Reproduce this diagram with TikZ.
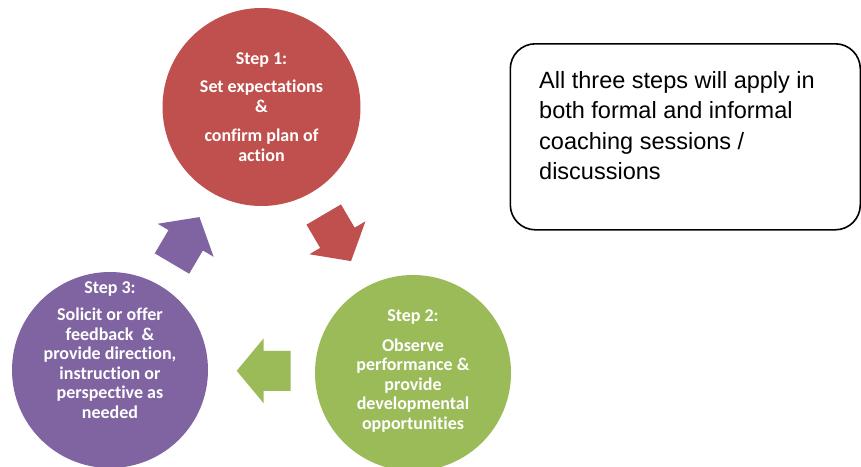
\documentclass[tikz,border=0pt]{standalone}
\usepackage{fontspec}
\setmainfont{Liberation Sans}
\newfontfamily\calibri[Ligatures=CommonOff]{Carlito}

\definecolor{stepred}{HTML}{C0504D}
\definecolor{stepgreen}{HTML}{9BBB59}
\definecolor{stepviolet}{HTML}{8064A2}

\tikzset{
  stepcircle/.style={circle, inner sep=0pt, minimum size=#1},
  stepcircle/.default=196pt,
  steptext/.style={text=white, align=center, inner sep=0pt,
    font=\calibri\bfseries\fontsize{18}{19.5}\selectfont},
  notebox/.style={draw, line width=1.6pt, rounded corners=25pt, inner sep=0pt,
    minimum width=350pt, minimum height=186pt},
  notetext/.style={align=left, inner sep=0pt, font=\fontsize{23.5}{30.2}\selectfont},
  % block arrow, tip on the local x axis
  steparrow/.pic={
    \path[pic actions] (-27,-20) -- (0,-20) -- (0,-32.5) -- (27,0)
      -- (0,32.5) -- (0,20) -- (-27,20) -- cycle;
  },
}

\begin{document}
\begin{tikzpicture}[x=1pt,y=-1pt]
    \useasboundingbox (0,0) rectangle (861,466);

    % the three steps
    \node[stepcircle=198pt, fill=stepred] (s1) at (261.5,107) {};
    \node[stepcircle, fill=stepgreen] (s2) at (413,373) {};
    \node[stepcircle, fill=stepviolet] (s3) at (110,370) {};

    \node[steptext] (t1) at (s1) {Step 1:\\[8.5pt]Set expectations\\\&\\[10pt]confirm plan of\\action};
    \node[steptext] (t2) at ([yshift=2pt]s2.center) {Step 2:\\[10pt]Observe\\performance \&\\provide\\developmental\\opportunities};
    \node[steptext] (t3) at ([yshift=20pt]s3.center) {Step 3:\\[8pt]Solicit or offer\\feedback~~\&\\provide direction,\\instruction or\\perspective as\\needed};

    % arrows between the steps
    \pic[fill=stepred, rotate=-59.6] at (337.4,237.8) {steparrow};
    \pic[fill=stepgreen, rotate=180] at (263.7,370.8) {steparrow};
    \pic[fill=stepviolet, rotate=59.4] at (185.7,240.3) {steparrow};

    % note on the right
    \node[notebox, anchor=north west] (note) at (509.5,43) {};
    \node[notetext, anchor=north west] (notetxt) at ([xshift=29.5pt,yshift=-28.5pt]note.north west)
        {All three steps will apply in\\both formal and informal\\coaching sessions /\\discussions};
\end{tikzpicture}
\end{document}
